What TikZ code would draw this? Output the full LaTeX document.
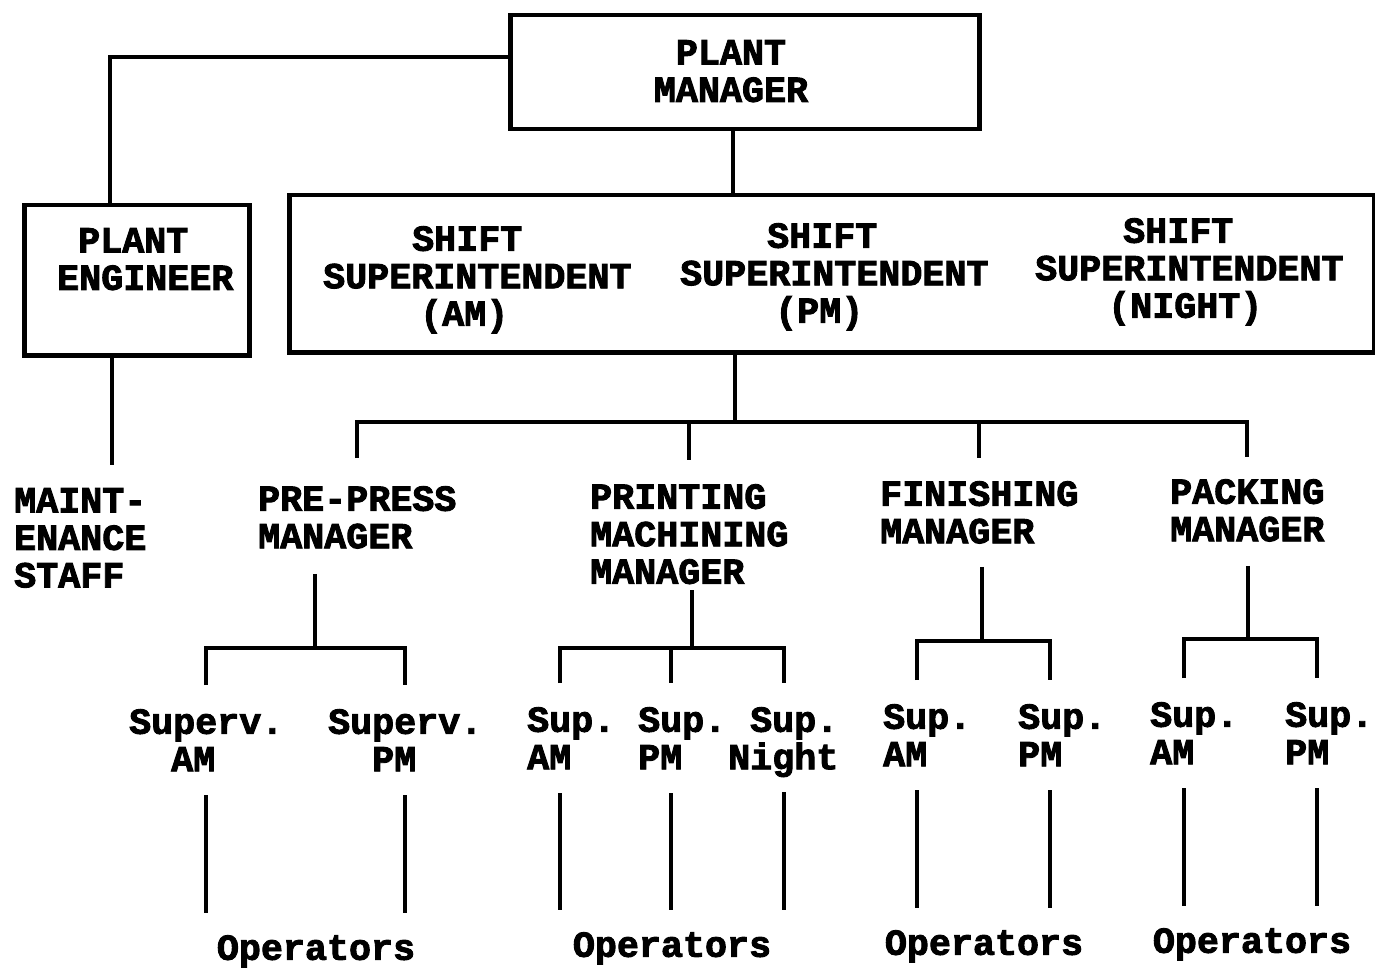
\documentclass[tikz,border=0pt]{standalone}
\usepackage{fontspec}
\setmonofont{Liberation Mono}[BoldFeatures={FakeBold=2.5}]
\usetikzlibrary{calc}
\begin{document}
\begin{tikzpicture}[x=1pt,y=-1pt,
  conn/.style={line width=4pt, draw=black},
  boxed/.style={draw=black, line width=4.5pt, inner sep=0pt},
  txt/.style={font=\ttfamily\bfseries\fontsize{36.7}{37.5}\selectfont, inner sep=0pt, text=black}]
\useasboundingbox (0,0) rectangle (1375,968);
\fill[white] (0,0) rectangle (1375,968);

% boxes
\node[boxed, minimum width=469pt, minimum height=114pt, anchor=north west] (pmbox) at (508,13) {};
\node[boxed, minimum width=225pt, minimum height=150pt, anchor=north west] (engbox) at (22,203) {};
\node[boxed, minimum width=1085pt, minimum height=157pt, anchor=north west] (shiftbox) at (287,193) {};

% box texts
\node[txt, align=center, anchor=north] (pmtext) at (731,40) {PLANT\\MANAGER};
\node[txt, align=left, anchor=north west] (engtext) at (57,228) {\hspace*{21pt}PLANT\\ENGINEER};
\node[txt, align=left, anchor=north west] (sh1) at (323,226) {\hspace*{89pt}SHIFT\\SUPERINTENDENT\\\hspace*{97pt}(AM)};
\node[txt, align=left, anchor=north west] (sh2) at (680,223) {\hspace*{87pt}SHIFT\\SUPERINTENDENT\\\hspace*{95pt}(PM)};
\node[txt, align=left, anchor=north west] (sh3) at (1035,218) {\hspace*{88pt}SHIFT\\SUPERINTENDENT\\\hspace*{73pt}(NIGHT)};

% second level
\node[txt, align=left, anchor=north west] (maint) at (14,488) {MAINT-\\ENANCE\\STAFF};
\node[txt, align=left, anchor=north west] (ppm) at (258,486) {PRE-PRESS\\MANAGER};
\node[txt, align=left, anchor=north west] (prm) at (590,484) {PRINTING\\MACHINING\\MANAGER};
\node[txt, align=left, anchor=north west] (fim) at (880,481) {FINISHING\\MANAGER};
\node[txt, align=left, anchor=north west] (pkm) at (1170,479) {PACKING\\MANAGER};

% supervisors
\node[txt, align=left, anchor=north west] (s11) at (129,709) {Superv.\\\hspace*{42pt}AM};
\node[txt, align=left, anchor=north west] (s12) at (328,709) {Superv.\\\hspace*{44pt}PM};
\node[txt, align=left, anchor=north west] (s21) at (527,707) {Sup.\\AM};
\node[txt, align=left, anchor=north west] (s22) at (638,707) {Sup.\\PM};
\node[txt, align=left, anchor=north west] (s23) at (728,707) {\hspace*{22pt}Sup.\\Night};
\node[txt, align=left, anchor=north west] (s31) at (883,704) {Sup.\\AM};
\node[txt, align=left, anchor=north west] (s32) at (1018,704) {Sup.\\PM};
\node[txt, align=left, anchor=north west] (s41) at (1150,702) {Sup.\\AM};
\node[txt, align=left, anchor=north west] (s42) at (1285,702) {Sup.\\PM};

% operators
\node[txt, anchor=north] (o1) at (316,935) {Operators};
\node[txt, anchor=north] (o2) at (672,932) {Operators};
\node[txt, anchor=north] (o3) at (984,930) {Operators};
\node[txt, anchor=north] (o4) at (1252,928) {Operators};

% coordinates
\coordinate (engx) at (110,57);
\coordinate (mx) at (112,0);
\coordinate (pmstem) at (733,160);
\coordinate (bus) at (735,422);
\coordinate (j1) at (315,648);
\coordinate (j2) at (692,648);
\coordinate (j3) at (982,641);
\coordinate (j4) at (1248,639);
\coordinate (x11) at (206,0);
\coordinate (x12) at (405,0);
\coordinate (x21) at (560,0);
\coordinate (x22) at (671,0);
\coordinate (x23) at (784,0);
\coordinate (x31) at (917,0);
\coordinate (x32) at (1050,0);
\coordinate (x41) at (1184,0);
\coordinate (x42) at (1317,0);

% top connectors
\draw[conn] (pmbox.west |- engx) -- (engx) -- (engbox.north -| engx);
\draw[conn, shorten >=23pt] (engbox.south -| mx) -- (maint.north -| mx);
\draw[conn] (pmbox.south -| pmstem) -- (shiftbox.north -| pmstem);
\draw[conn] (shiftbox.south -| bus) -- (bus);
\draw[conn, shorten <=28pt, shorten >=22pt] (ppm.north) |- (bus) -| (pkm.north);
\draw[conn, shorten >=24pt] (prm.north |- bus) -- (prm.north);
\draw[conn, shorten >=23pt] (fim.north |- bus) -- (fim.north);

% manager stems
\draw[conn, shorten <=25pt] (ppm.south -| j1) -- (j1);
\draw[conn, shorten <=6pt] (prm.south -| j2) -- (j2);
\draw[conn, shorten <=23pt] (fim.south -| j3) -- (j3);
\draw[conn, shorten <=24pt] (pkm.south -| j4) -- (j4);

% branch bars
\draw[conn, shorten <=24pt, shorten >=24pt] (s11.north -| x11) |- (j1) -| (s12.north -| x12);
\draw[conn, shorten <=24pt, shorten >=24pt] (s21.north -| x21) |- (j2) -| (s23.north -| x23);
\draw[conn, shorten >=24pt] (x22 |- j2) -- (s22.north -| x22);
\draw[conn, shorten <=24pt, shorten >=24pt] (s31.north -| x31) |- (j3) -| (s32.north -| x32);
\draw[conn, shorten <=24pt, shorten >=24pt] (s41.north -| x41) |- (j4) -| (s42.north -| x42);

% operator lines
\draw[conn, shorten <=24pt, shorten >=22pt] (s11.south -| x11) -- (o1.north -| x11);
\draw[conn, shorten <=24pt, shorten >=22pt] (s12.south -| x12) -- (o1.north -| x12);
\draw[conn, shorten <=24pt, shorten >=22pt] (s21.south -| x21) -- (o2.north -| x21);
\draw[conn, shorten <=24pt, shorten >=22pt] (s22.south -| x22) -- (o2.north -| x22);
\draw[conn, shorten <=15pt, shorten >=22pt] (s23.south -| x23) -- (o2.north -| x23);
\draw[conn, shorten <=24pt, shorten >=22pt] (s31.south -| x31) -- (o3.north -| x31);
\draw[conn, shorten <=24pt, shorten >=22pt] (s32.south -| x32) -- (o3.north -| x32);
\draw[conn, shorten <=24pt, shorten >=22pt] (s41.south -| x41) -- (o4.north -| x41);
\draw[conn, shorten <=24pt, shorten >=22pt] (s42.south -| x42) -- (o4.north -| x42);
\end{tikzpicture}
\end{document}
